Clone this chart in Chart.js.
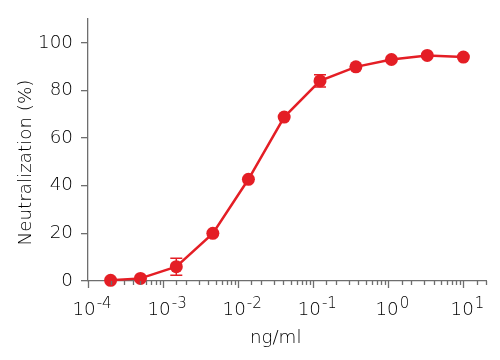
<!DOCTYPE html>
<html>
<head>
<meta charset="utf-8">
<script src="https://cdn.jsdelivr.net/npm/chart.js@4.4.0/dist/chart.umd.min.js"></script>
<style>
html, body { margin: 0; padding: 0; background: #fff; }
#wrap { width: 500px; height: 360px; }
</style>
</head>
<body>
<div id="wrap"><canvas id="chart"></canvas></div>
<script>
// dilution series (ng/ml) and neutralization readout
var concentrations = [0.0002, 0.0005, 0.0015, 0.0046, 0.0137, 0.041, 0.123, 0.37, 1.1, 3.3, 10];
var neutralization = [0.3, 1.1, 6, 20, 42.7, 68.8, 84, 89.9, 93, 94.7, 94];
var errors = [0, 0, 3.6, 0, 0, 0, 2.6, 0, 0, 0, 0];
var decadeExponents = [-4, -3, -2, -1, 0, 1];
var yTickValues = [0, 20, 40, 60, 80, 100];

var red = '#e41e25';
var axisGrey = '#6e6e6e';
var textColor = '#000000';
var fontFamily = '"DejaVu Sans", Lato, sans-serif';
var fontWeight = 200;
var fontSize = 18.3;

function isDecade(v) {
    var l = Math.log10(v);
    return Math.abs(l - Math.round(l)) < 1e-9;
}

function font(size) {
    return fontWeight + ' ' + size + 'px ' + fontFamily;
}

var extras = {
    id: 'extras',
    beforeDatasetsDraw: function(chart) {
        var ctx = chart.ctx;
        var x = chart.scales.x, y = chart.scales.y;
        ctx.save();
        ctx.strokeStyle = red;
        ctx.lineWidth = 1.5;
        for (var i = 0; i < concentrations.length; i++) {
            if (!errors[i]) continue;
            var px = x.getPixelForValue(concentrations[i]);
            var top = y.getPixelForValue(neutralization[i] + errors[i]);
            var bot = y.getPixelForValue(neutralization[i] - errors[i]);
            ctx.beginPath();
            ctx.moveTo(px, top); ctx.lineTo(px, bot);
            ctx.moveTo(px - 6, top); ctx.lineTo(px + 6, top);
            ctx.moveTo(px - 6, bot); ctx.lineTo(px + 6, bot);
            ctx.stroke();
        }
        ctx.restore();
    },
    afterDraw: function(chart) {
        var ctx = chart.ctx;
        var x = chart.scales.x;
        var axisY = chart.chartArea.bottom;
        ctx.save();
        // x tick marks: long on decades, short in between
        ctx.strokeStyle = axisGrey;
        ctx.lineWidth = 1.3;
        x.ticks.forEach(function(t) {
            var px = Math.round(x.getPixelForValue(t.value)) + 0.5;
            ctx.beginPath();
            ctx.moveTo(px, axisY);
            ctx.lineTo(px, axisY + (isDecade(t.value) ? 7 : 4));
            ctx.stroke();
        });
        // decade labels 10^n
        ctx.fillStyle = textColor;
        ctx.textBaseline = 'alphabetic';
        ctx.textAlign = 'left';
        decadeExponents.forEach(function(e) {
            var px = x.getPixelForValue(Math.pow(10, e));
            ctx.font = font(fontSize);
            var base = '10';
            var w1 = ctx.measureText(base).width;
            ctx.font = font(15);
            var sup = (e < 0 ? '-' : '') + Math.abs(e);
            var w2 = ctx.measureText(sup).width;
            var start = px - (w1 + 1 + w2) / 2 + 4;
            ctx.font = font(fontSize);
            ctx.fillText(base, start, 315);
            ctx.font = font(15);
            ctx.fillText(sup, start + w1 + 1, 308);
        });
        // x axis title, centred under the labelled decades
        var mid = (x.getPixelForValue(Math.pow(10, decadeExponents[0])) +
                   x.getPixelForValue(Math.pow(10, decadeExponents[decadeExponents.length - 1]))) / 2;
        ctx.font = font(fontSize);
        ctx.textAlign = 'center';
        ctx.fillText('ng/ml', mid, 343);
        // y axis title
        ctx.translate(31, 162.5);
        ctx.rotate(-Math.PI / 2);
        ctx.fillText('Neutralization (%)', 0, 0);
        ctx.restore();
    }
};

var ctx = document.getElementById('chart').getContext('2d');
var myChart = new Chart(ctx, {
    type: 'line',
    data: {
        datasets: [{
            data: concentrations.map(function(c, i) { return { x: c, y: neutralization[i] }; }),
            borderColor: red,
            backgroundColor: red,
            borderWidth: 2.5,
            pointRadius: 6.5,
            pointHoverRadius: 6.5,
            pointBorderWidth: 0,
            pointBackgroundColor: red,
            tension: 0,
            clip: false
        }]
    },
    options: {
        responsive: true,
        maintainAspectRatio: false,
        animation: false,
        events: [],
        layout: { padding: { left: 0, top: 16, right: 14, bottom: 0 } },
        plugins: {
            legend: { display: false },
            tooltip: { enabled: false }
        },
        scales: {
            x: {
                type: 'logarithmic',
                min: 0.0001,
                max: 20,
                border: { color: axisGrey, width: 1.3 },
                grid: { display: false },
                ticks: {
                    autoSkip: false,
                    maxRotation: 0,
                    callback: function() { return ''; }
                },
                afterFit: function(s) { s.height = 79; }
            },
            y: {
                min: 0,
                max: 110,
                border: { color: axisGrey, width: 1.3 },
                grid: {
                    drawOnChartArea: false,
                    drawTicks: true,
                    tickLength: 7,
                    color: axisGrey,
                    lineWidth: 1.3
                },
                afterBuildTicks: function(s) {
                    s.ticks = yTickValues.map(function(v) { return { value: v }; });
                },
                ticks: {
                    padding: 8,
                    color: textColor,
                    font: { family: fontFamily, size: fontSize, weight: fontWeight }
                },
                afterFit: function(s) { s.width = 88; }
            }
        }
    },
    plugins: [extras]
});
</script>
</body>
</html>
